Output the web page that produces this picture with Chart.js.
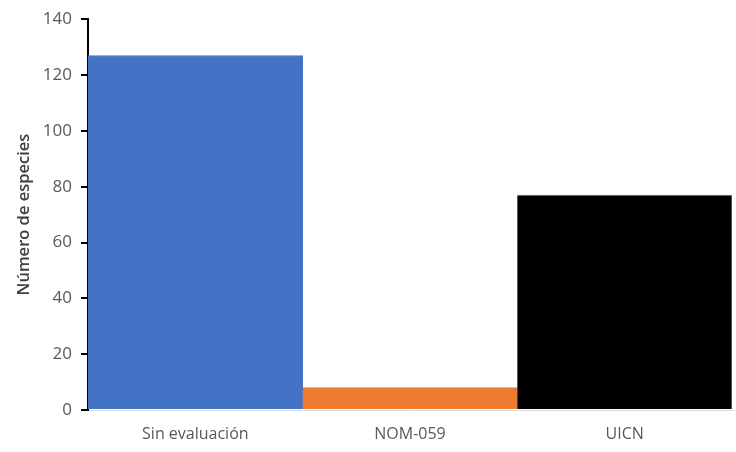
<!DOCTYPE html>
<html>
<head>
<meta charset="utf-8">
<script src="https://cdn.jsdelivr.net/npm/chart.js@4"></script>
<style>
html,body{margin:0;padding:0;background:#fff;}
#wrap{width:736px;height:452px;}
</style>
</head>
<body>
<div id="wrap"><canvas id="c" width="736" height="452"></canvas></div>
<script>
const categories = ["Sin evaluación", "NOM-059", "UICN"];
const values = [127, 8, 77];
const barColors = ["#4472C4", "#ED7D31", "#000000"];
const barBorders = ["#4472C4", "#ED7D31", "#7f7f7f"];
const yTitle = "Número de especies";

new Chart(document.getElementById('c'), {
  type: 'bar',
  data: {
    labels: categories,
    datasets: [{
      data: values,
      backgroundColor: barColors,
      borderColor: barBorders,
      borderWidth: {top:1, right:1, left:0, bottom:0},
      barPercentage: 1,
      categoryPercentage: 1
    }]
  },
  options: {
    responsive: false,
    animation: false,
    devicePixelRatio: 1,
    layout: {padding: {top: 19, right: 4, left: 0, bottom: 0}},
    plugins: {legend: {display: false}, tooltip: {enabled: false}},
    scales: {
      x: {
        grid: {display: false, drawTicks: false},
        border: {display: true, color: '#d9d9d9', width: 1},
        ticks: {color: '#595959', font: {family: 'Open Sans', size: 16}, padding: 15},
        afterFit: a => { a.height = 42; }
      },
      y: {
        min: 0, max: 140,
        ticks: {stepSize: 20, color: '#595959', font: {family: 'Open Sans', size: 17}, padding: 9},
        grid: {display: true, drawOnChartArea: false, drawTicks: true, tickLength: 7, color: '#000', lineWidth: 2},
        border: {display: true, color: '#000', width: 2},
        title: {display: true, text: yTitle, color: '#404040', font: {family: 'Open Sans', size: 16.5, weight: '600'}, padding: {top: 14, bottom: 0}},
        afterFit: a => { a.width = 88; }
      }
    }
  }
});
</script>
</body>
</html>
